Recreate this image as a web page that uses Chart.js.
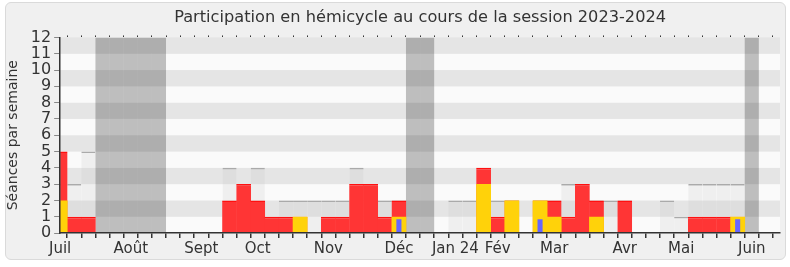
<!DOCTYPE html>
<html><head><meta charset="utf-8">
<script src="https://cdn.jsdelivr.net/npm/chart.js@4"></script>
<style>
html,body{margin:0;padding:0;background:#fff;}
#wrap{position:relative;width:790px;height:267px;overflow:hidden;}
#card{position:absolute;left:5px;top:2px;width:779px;height:256px;background:#f0f0f0;border:1px solid #dadada;border-radius:6px;}
canvas{position:absolute;left:0;top:0;}
</style></head><body>
<div id="wrap"><div id="card"></div><canvas id="c" width="790" height="267"></canvas></div>
<script>
// Weeks of the session (index 0 = first week of July 2023)
const weeks = Array.from({length: 52}, (_, i) => i);
const monthLabels = ['Juil','Août','Sept','Oct','Nov','Déc','Jan 24','Fév','Mar','Avr','Mai','Juin'];
const monthWeeks  = [0, 5, 10, 14, 19, 24, 28, 31, 35, 40, 44, 49];

// Présences en hémicycle (red)
const presence = [5,1,1,0,0,0,0,0,0,0,0,0, 2,3,2,1,1,1,0,1,1,3,3,1, 2,0,0,0,0,0,4,1,2,0,2,2, 1,3,2,0,2,0,0,0,0,1,1,1, 1,0,0,0];
// Interventions (yellow)
const interventions = [2,0,0,0,0,0,0,0,0,0,0,0, 0,0,0,0,0,1,0,0,0,0,0,0, 1,0,0,0,0,0,3,0,2,0,2,1, 0,0,1,0,0,0,0,0,0,0,0,0, 1,0,0,0];
// Questions orales (blue)
const questions = [0,0,0,0,0,0,0,0,0,0,0,0, 0,0,0,0,0,0,0,0,0,0,0,0, 0.85,0,0,0,0,0,0,0,0,0,0.85,0, 0,0,0,0,0,0,0,0,0,0,0,0, 0.85,0,0,0];
// Médiane des députés (grey)
const mediane = [3,3,5,0,0,0,0,0,0,0,0,0, 4,3,4,1,2,2,2,2,2,4,3,2, 2,0,0,0,2,2,2,2,2,0,2,2, 3,3,2,2,2,0,0,2,1,3,3,3, 3,0,0,0];
// Vacances parlementaires
const vacances = [0,0,0,12,12,12,12,12,0,0,0,0, 0,0,0,0,0,0,0,0,0,0,0,0, 0,12,12,0,0,0,0,0,0,0,0,0, 0,0,0,0,0,0,0,0,0,0,0,0, 0,12,0,0];
const yMax = 12;

Chart.defaults.font.family = 'DejaVu Sans';
Chart.defaults.color = '#333';

const stripes = {
  id: 'stripes',
  beforeDraw(chart) {
    const {ctx, chartArea: a, scales: {y}} = chart;
    ctx.save();
    for (let i = 0; i < yMax; i++) {
      const t = y.getPixelForValue(i + 1), b = y.getPixelForValue(i);
      ctx.fillStyle = (i % 2) ? '#e5e5e5' : '#fafafa';
      ctx.fillRect(a.left, t, a.right - a.left, b - t);
    }
    ctx.restore();
  }
};

const common = {grouped: false, categoryPercentage: 1, barPercentage: 1, clip: 0, inflateAmount: 0, xAxisID: 'x', yAxisID: 'y'};

new Chart(document.getElementById('c'), {
  type: 'bar',
  data: {
    labels: weeks,
    datasets: [
      {...common, label: 'Questions orales', data: questions, backgroundColor: '#6666ff', barPercentage: 0.36},
      {...common, label: 'Interventions', data: interventions, backgroundColor: '#ffd20a', barPercentage: 1.05},
      {...common, label: 'Présences', data: presence, backgroundColor: '#ff3535', borderColor: '#ff1010', barPercentage: 1.05, borderWidth: {top: 1.5, left: 0, right: 0, bottom: 0}},
      {...common, label: 'Médiane', data: mediane, backgroundColor: 'rgba(200,200,200,0.22)', borderColor: '#aaaaaa', borderWidth: {top: 1.5, left: 0, right: 0, bottom: 0}},
      {...common, label: 'Vacances', data: vacances, backgroundColor: 'rgba(0,0,0,0.24)'}
    ]
  },
  plugins: [stripes],
  options: {
    responsive: false, animation: false, devicePixelRatio: 1,
    layout: {padding: {left: 0, right: 10, top: 0, bottom: 7}},
    plugins: {
      legend: {display: false}, tooltip: {enabled: false},
      title: {display: true, fullSize: false, text: 'Participation en hémicycle au cours de la session 2023-2024',
        color: '#333', font: {size: 16.2, weight: 'normal'}, padding: {top: 8, bottom: 8}}
    },
    scales: {
      x: {
        type: 'category', offset: false,
        grid: {drawOnChartArea: false, tickLength: 5, color: '#333', lineWidth: 1.5},
        border: {color: '#333', width: 1.5, z: 1},
        ticks: {autoSkip: false, maxRotation: 0, padding: 2, color: '#333', font: {size: 15},
          callback: (v, i) => { const k = monthWeeks.indexOf(i); return k < 0 ? '' : monthLabels[k]; }}
      },
      xTop: {
        type: 'category', position: 'top', offset: false,
        grid: {drawOnChartArea: false, tickLength: 2, color: '#333'},
        border: {display: false}, ticks: {display: false}
      },
      y: {
        min: 0, max: yMax,
        grid: {drawOnChartArea: false, tickLength: 6, color: '#888'},
        border: {color: '#333', width: 1.5, z: 1},
        ticks: {stepSize: 1, autoSkip: false, padding: 3, color: '#333', font: {size: 16}},
        title: {display: true, text: 'Séances par semaine', color: '#333', font: {size: 14}, padding: {top: 5, bottom: 6}}
      }
    }
  }
});
</script></body></html>
